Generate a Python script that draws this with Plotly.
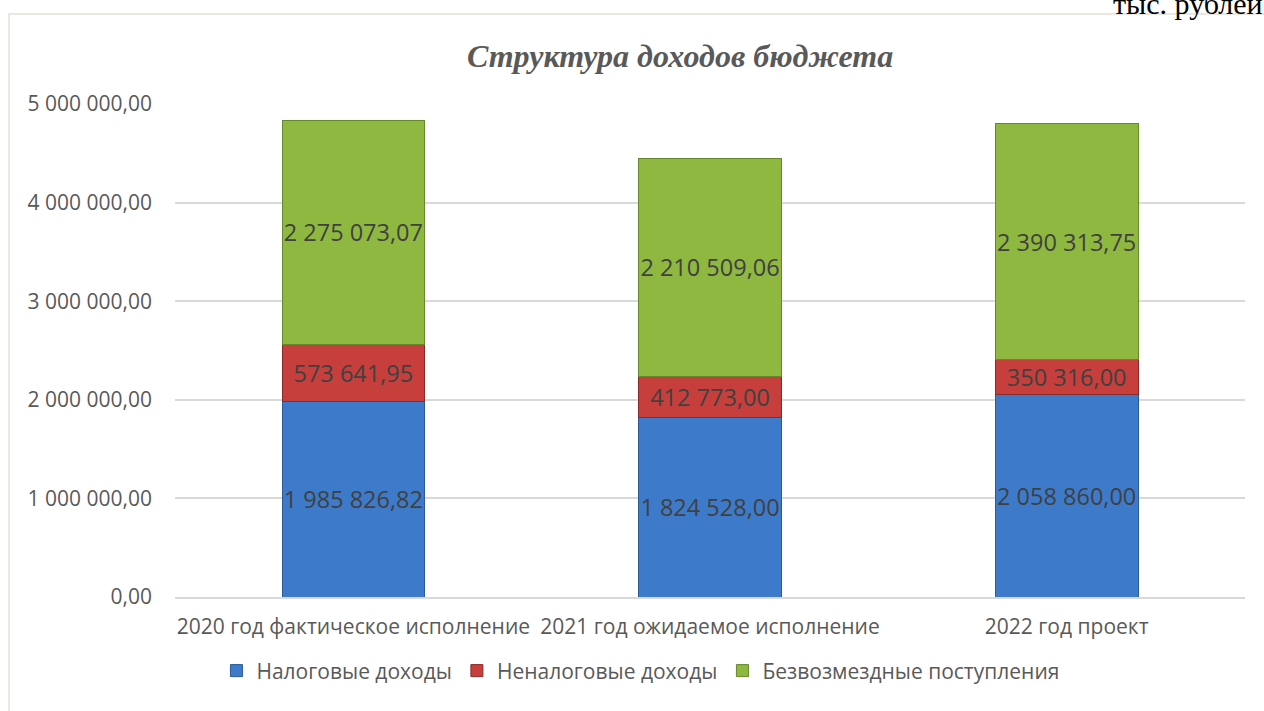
import plotly.graph_objects as go

categories = ["2020 год фактическое исполнение", "2021 год ожидаемое исполнение", "2022 год проект"]
series_names = ["Налоговые доходы", "Неналоговые доходы", "Безвозмездные поступления"]
tax = [1985826.82, 1824528.00, 2058860.00]
nontax = [573641.95, 412773.00, 350316.00]
grants = [2275073.07, 2210509.06, 2390313.75]
ytick_vals = [0, 1000000, 2000000, 3000000, 4000000, 5000000]
ytick_text = ["0,00", "1 000 000,00", "2 000 000,00", "3 000 000,00", "4 000 000,00", "5 000 000,00"]

def fmt(v):
    s = f"{v:,.2f}"
    return s.replace(",", " ").replace(".", ",")

colors = ["#3d7bca", "#c63f3c", "#8fb840"]
lines = ["#2b5a96", "#8a2a28", "#66872b"]

fig = go.Figure()
for name, vals, c, lc in zip(series_names, [tax, nontax, grants], colors, lines):
    fig.add_trace(go.Bar(
        x=categories, y=vals, name=name,
        marker=dict(color=c, line=dict(color=lc, width=1)),
        text=[fmt(v) for v in vals], textposition="inside", insidetextanchor="middle",
        textangle=0,
        textfont=dict(family="Open Sans", size=23.5, color="#404040"),
        constraintext="none", cliponaxis=False,
    ))

fig.update_layout(
    barmode="stack", bargap=0.6,
    width=1264, height=711,
    margin=dict(l=175, r=19, t=104, b=114),
    paper_bgcolor="white", plot_bgcolor="white",
    uniformtext=dict(minsize=23, mode="show"),
    title=dict(text="<b><i>Структура доходов бюджета</i></b>", x=0.538, xanchor="center", y=1 - 56 / 711, yanchor="middle",
               font=dict(family="Liberation Serif", size=32, color="#595959")),
    xaxis=dict(showline=True, linecolor="#d9d9d9", linewidth=1.5, ticks="", ticklabelstandoff=10,
               tickfont=dict(family="Open Sans", size=21, color="#595959")),
    yaxis=dict(range=[0, 5000000], tickvals=ytick_vals, ticktext=ytick_text,
               showgrid=True, gridcolor="#d9d9d9", gridwidth=1.5, zeroline=False,
               tickfont=dict(family="Open Sans", size=21, color="#595959"), ticklabelstandoff=22),
    legend=dict(orientation="h", x=0.435, xanchor="center", y=-0.150, yanchor="middle",
                font=dict(family="Open Sans", size=21, color="#595959"), traceorder="normal",
                itemwidth=30),
    font=dict(family="Open Sans"),
    showlegend=True,
)

fig.add_shape(type="rect", xref="paper", yref="paper",
              x0=(9 - 175) / 1070, x1=(1275 - 175) / 1070,
              y0=(597 - 730) / 493, y1=(597 - 14) / 493,
              line=dict(color="#ece8de", width=2), fillcolor="rgba(0,0,0,0)", layer="below")

fig.add_annotation(text="тыс. рублей", xref="paper", yref="paper",
                   x=(1111 - 175) / 1070, xanchor="left", y=(597 - 4) / 493, yanchor="middle",
                   showarrow=False, font=dict(family="Liberation Serif", size=30, color="#000000"))

fig.write_html("out.html", config={"displayModeBar": False},
               post_script="document.body.style.margin='0px';document.body.style.overflow='hidden';")
